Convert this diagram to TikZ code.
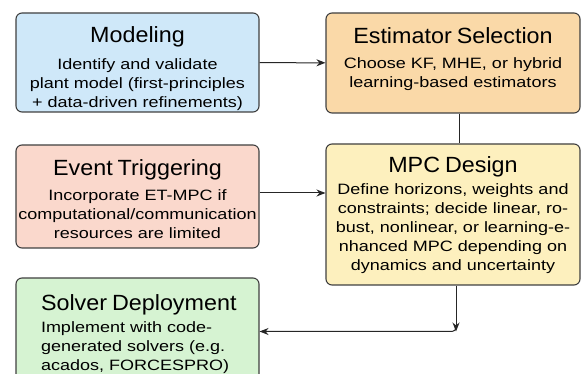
\documentclass[tikz,border=0pt]{standalone}
\usepackage{fontspec}
\setmainfont{Liberation Sans}[FakeStretch=1.2]
\newfontfamily\titlefont{Liberation Sans}[FakeStretch=1.06]
\usetikzlibrary{arrows.meta}

\definecolor{modelblue}{RGB}{207,232,249}
\definecolor{estorange}{RGB}{250,217,168}
\definecolor{eventred}{RGB}{250,216,204}
\definecolor{mpcyellow}{RGB}{253,240,190}
\definecolor{solvergreen}{RGB}{214,243,210}
\newcommand{\boxtitle}[1]{{\titlefont\fontsize{22}{26}\selectfont #1}}

\begin{document}
\begin{tikzpicture}[x=1pt,y=-1pt,
  stage/.style={draw=black!75, line width=1.1pt, rounded corners=6pt, inner xsep=2pt, inner ysep=0pt, align=center, font=\fontsize{15}{19}\selectfont},
  flow/.style={line width=1pt, draw=black!85, -{Stealth[length=9pt,width=7pt]}}]
\useasboundingbox (0,0) rectangle (582,374);
\clip (0,0) rectangle (582,374);

% title baseline = top + text height, box bottom = baseline + text depth
\node[stage, fill=modelblue, text width=239pt, text height=30pt, text depth=69pt](model) at (137.5,62.5) {\boxtitle{Modeling}\\[8pt] Identify and validate\\ plant model (first-principles\\ + data-driven refinements)};
\node[stage, fill=estorange, text width=250pt, text height=31pt, text depth=69pt](est) at (453,63) {\boxtitle{Estimator Selection}\\[6pt] Choose KF, MHE, or hybrid\\ learning-based estimators};
\node[stage, fill=eventred, text width=239pt, text height=31pt, text depth=72pt](event) at (137.5,196.5) {\boxtitle{Event Triggering}\\[6pt] Incorporate ET-MPC if\\ computational/communication\\ resources are limited};
\node[stage, fill=mpcyellow, text width=250pt, text height=29pt, text depth=112pt](mpc) at (453,214.5) {\boxtitle{MPC Design}\\[3pt] Define horizons, weights and\\ constraints; decide linear, ro-\\ bust, nonlinear, or learning-e-\\ nhanced MPC depending on\\ dynamics and uncertainty};
\node[stage, fill=solvergreen, align=left, inner xsep=19pt, text width=205pt, text height=33pt, text depth=74pt](solver) at (137.5,331.5) {\hspace*{6pt}\boxtitle{Solver Deployment}\\[3pt] \hspace*{6pt}Implement with code-\\ \hspace*{6pt}generated solvers (e.g.\\ \hspace*{6pt}acados, FORCESPRO)};

\coordinate (turn) at ([xshift=3pt]mpc.south |- solver.east);

\draw[flow] (model) -- (est);
\draw[line width=1pt, draw=black!85] ([xshift=6pt]est.south) -- ([xshift=6pt]est.south |- mpc.north);
\draw[flow] ([yshift=3.5pt]event.east) -- ([yshift=3.5pt]event.east -| mpc.west);
\draw[flow] ([xshift=3pt]mpc.south) -- (turn);
\draw[flow, rounded corners=4pt] ([yshift=4pt]turn) -- (turn) -- (solver.east);
\end{tikzpicture}
\end{document}
